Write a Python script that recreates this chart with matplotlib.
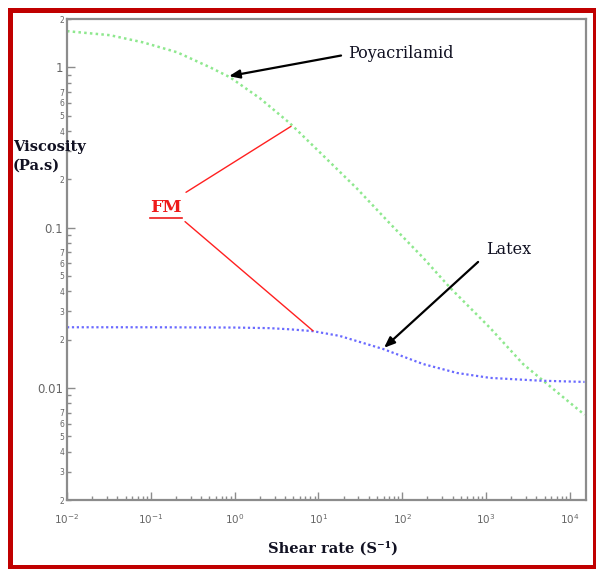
import matplotlib
matplotlib.use("Agg")
import matplotlib.pyplot as plt
from matplotlib.patches import Rectangle
from matplotlib.lines import Line2D
from matplotlib.ticker import LogLocator, FuncFormatter, NullFormatter, FixedLocator
import numpy as np

# Polyacrylamide: shear rate (1/s) and viscosity (Pa.s)
poly_rate = [0.01, 0.0326, 0.0807, 0.206, 0.508, 0.881, 2.01, 4.58, 11.35,
             28.9, 71.4, 177, 372, 1117, 2767, 5346, 15000]
poly_visc = [1.68, 1.585, 1.43, 1.24, 1.0, 0.866, 0.64, 0.447, 0.282,
             0.175, 0.106, 0.065, 0.0422, 0.0237, 0.0141, 0.0106, 0.0068]

# Latex
latex_rate = [0.01, 0.1, 1, 2.6, 4.6, 8.6, 18, 59, 177, 451, 1117, 4406, 15000]
latex_visc = [0.0239, 0.0239, 0.0238, 0.0236, 0.0232, 0.0226, 0.0211, 0.0175,
              0.0141, 0.0124, 0.01155, 0.0111, 0.0109]

x_major = [1e-2, 1e-1, 1e0, 1e1, 1e2, 1e3, 1e4]
y_major = [0.01, 0.1, 1]

W, H = 596, 569
fig = plt.figure(figsize=(W / 100, H / 100), dpi=100)
ax = fig.add_axes([67 / W, 1 - 500 / H, (586 - 67) / W, (500 - 19) / H])

ax.set_xscale("log")
ax.set_yscale("log")
ax.set_xlim(0.01, 15600)
ax.set_ylim(0.002, 2)

ax.plot(poly_rate, poly_visc, color="#8ee88e", lw=1.8, linestyle=(0, (1, 1.3)))
ax.plot(latex_rate, latex_visc, color="#6a6aff", lw=1.6, linestyle=(0, (1, 1.2)))

gray = "#8c8c8c"
for s in ax.spines.values():
    s.set_color(gray)
    s.set_linewidth(1.6)

ax.xaxis.set_major_locator(FixedLocator(x_major))
ax.yaxis.set_major_locator(FixedLocator(y_major))
ax.yaxis.set_minor_locator(LogLocator(base=10, subs=np.arange(2, 10)))
ax.xaxis.set_minor_locator(LogLocator(base=10, subs=np.arange(2, 10)))


def ymaj(v, pos):
    return "%g" % v


def ymin(v, pos):
    # the "3" at 0.3 sits under the axis title in the original
    if abs(v - 0.3) < 1e-6:
        return ""
    d = int(round(v / 10 ** np.floor(np.log10(v) + 1e-9)))
    return str(d) if 2 <= d <= 7 else ""


def xmaj(v, pos):
    return r"$10^{%d}$" % int(round(np.log10(v)))


ax.xaxis.set_major_formatter(FuncFormatter(xmaj))
ax.yaxis.set_major_formatter(FuncFormatter(ymaj))
ax.yaxis.set_minor_formatter(FuncFormatter(ymin))
ax.xaxis.set_minor_formatter(NullFormatter())

ax.tick_params(which="both", direction="in", color=gray, labelcolor="#666666",
               top=False, right=False, width=1)
ax.tick_params(which="major", length=6, labelsize=8.5, pad=3)
ax.tick_params(which="minor", length=3, labelsize=5.5, pad=2)
ax.tick_params(axis="x", which="major", labelsize=7.5, pad=9)

serif = "DejaVu Serif"
ink = "#111122"

fig.text(13 / W, 1 - 156 / H, "Viscosity\n(Pa.s)", family=serif, weight="bold",
         fontsize=10.5, color=ink, ha="left", va="center", linespacing=1.45)
fig.text(333 / W, 1 - 548 / H, "Shear rate (S\u207b\u00b9)", family=serif, weight="bold",
         fontsize=10.5, color=ink, ha="center", va="center")

ax.annotate("Poyacrilamid", xy=(0.857, 0.88), xytext=(22.5, 1.22),
            family=serif, fontsize=11.5, color=ink, ha="left", va="center",
            arrowprops=dict(arrowstyle="-|>,head_length=0.55,head_width=0.22", color="black",
                            lw=1.6, relpos=(0, 0.45), shrinkA=3, shrinkB=0))
ax.annotate("Latex", xy=(60.7, 0.0178), xytext=(1000, 0.0729),
            family=serif, fontsize=11.5, color=ink, ha="left", va="center",
            arrowprops=dict(arrowstyle="-|>,head_length=0.55,head_width=0.22", color="black",
                            lw=1.6, relpos=(0, 0.2), shrinkA=5, shrinkB=0))

fm = ax.text(0.152, 0.133, "FM", family=serif, weight="bold", fontsize=12.5,
             color="#ee1a1a", ha="center", va="center")
ax.annotate("", xy=(4.71, 0.428), xytext=(0.263, 0.166),
            arrowprops=dict(arrowstyle="-", color="#ff2020", lw=1, shrinkA=0, shrinkB=0))
ax.annotate("", xy=(8.63, 0.0227), xytext=(0.256, 0.109),
            arrowprops=dict(arrowstyle="-", color="#ff2020", lw=1, shrinkA=0, shrinkB=0))

# underline under FM
fig.canvas.draw()
bb = fm.get_window_extent().transformed(fig.transFigure.inverted())
fig.add_artist(Line2D([bb.x0, bb.x1], [bb.y0 - 1.5 / H, bb.y0 - 1.5 / H],
                      transform=fig.transFigure, color="#ee1a1a", lw=1.2))

fig.add_artist(Rectangle((9.5 / W, 1 - 566.5 / H), (594.5 - 9.5) / W, (566.5 - 10) / H,
                         transform=fig.transFigure, fill=False, ec="#c00000", lw=3.6))

fig.savefig("out.png", dpi=100)
